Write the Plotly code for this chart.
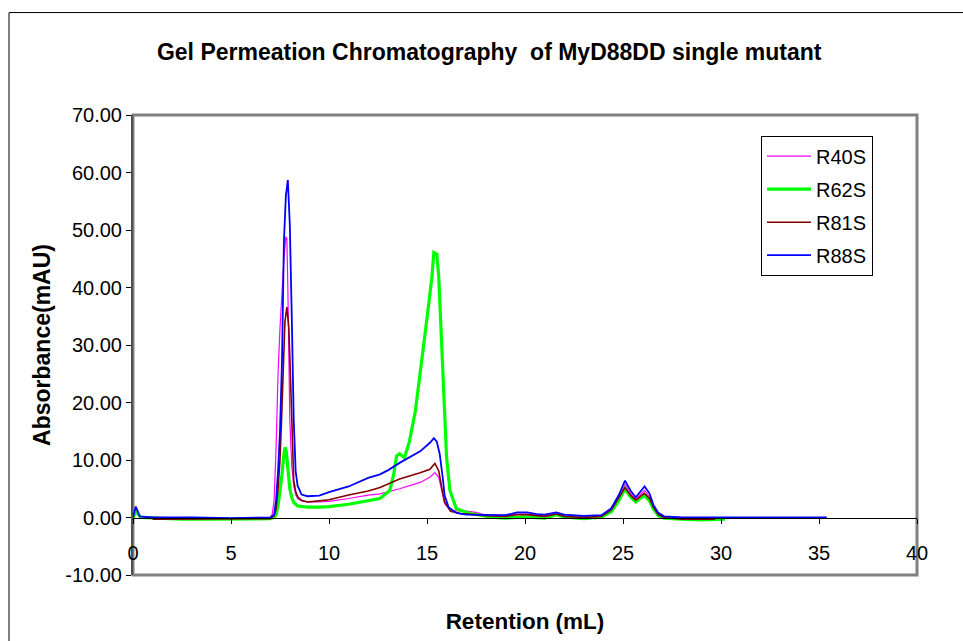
import plotly.graph_objects as go

# Retention volume (mL) and absorbance (mAU) for each mutant
r40s_x = [0.0, 0.15, 0.4, 1.0, 3.0, 5.0, 7.0, 7.1, 7.2, 7.3, 7.4, 7.5, 7.6, 7.7, 7.8, 7.85,
          7.9, 8.0, 8.1, 8.2, 8.3, 8.4, 8.6, 8.9, 9.5, 10.0, 11.0, 12.0, 12.6, 13.6, 14.65,
          15.15, 15.4, 15.6, 15.75, 15.9, 16.2, 17.0, 17.5, 18.0, 19.0, 19.6, 20.1, 21.0,
          21.6, 22.0, 23.0, 23.9, 24.4, 24.8, 25.1, 25.4, 25.65, 25.9, 26.1, 26.35, 26.55,
          26.8, 27.1, 28.0, 29.0, 30.0]
r40s_y = [-0.4, 1.2, 0.1, 0.0, -0.2, -0.2, 0.0, 0.5, 3.0, 12.0, 25.0, 33.0, 40.0, 45.0, 48.8, 48.5,
          40.0, 17.0, 9.0, 5.5, 4.0, 3.3, 2.9, 2.7, 2.7, 2.8, 3.3, 3.9, 4.1, 5.0, 6.1,
          7.0, 7.8, 7.0, 4.7, 2.4, 1.2, 1.1, 0.9, 0.4, 0.3, 0.6, 0.6, 0.3,
          0.7, 0.3, 0.1, 0.3, 1.4, 3.6, 5.7, 4.2, 3.2, 4.1, 4.7, 3.7, 2.0,
          0.7, 0.1, 0.0, 0.0, 0.0]

r62s_x = [0.0, 0.15, 0.4, 1.0, 2.5, 4.0, 5.5, 7.0, 7.2, 7.3, 7.4, 7.5, 7.6, 7.7, 7.76, 7.82,
          7.9, 8.0, 8.1, 8.2, 8.4, 8.6, 8.9, 9.5, 10.0, 11.0, 12.0, 12.6, 13.1, 13.3, 13.45,
          13.6, 13.85, 14.1, 14.4, 14.65, 14.8, 15.05, 15.25, 15.35, 15.5, 15.6, 15.67,
          15.75, 15.87, 16.0, 16.17, 16.5, 17.2, 18.4, 19.0, 20.0, 21.0, 21.6, 22.0, 23.0,
          23.9, 24.4, 24.8, 25.1, 25.4, 25.65, 25.9, 26.1, 26.35, 26.55, 26.8, 27.1, 28.0,
          29.0, 30.2]
r62s_y = [0.0, 1.0, 0.0, -0.1, -0.3, -0.3, -0.3, -0.2, 0.0, 0.5, 2.0, 4.5, 7.5, 11.0, 12.2, 11.5,
          9.0, 5.0, 3.5, 2.6, 2.0, 1.9, 1.8, 1.8, 1.9, 2.3, 2.9, 3.3, 4.7, 7.5, 10.7,
          11.1, 10.4, 13.2, 18.4, 24.7, 29.2, 36.1, 41.8, 46.1, 45.8, 41.8, 36.1,
          27.5, 20.1, 10.4, 4.7, 1.5, 0.7, 0.0, -0.1, 0.1, -0.1, 0.5, 0.1, -0.2,
          0.1, 1.0, 3.0, 5.0, 3.5, 2.7, 3.4, 3.8, 2.9, 1.5, 0.3, -0.1, -0.3,
          -0.4, -0.3]

r81s_x = [1.0, 3.0, 5.0, 7.0, 7.2, 7.3, 7.4, 7.5, 7.6, 7.7, 7.75, 7.85, 7.95, 8.0, 8.1, 8.2,
          8.3, 8.4, 8.6, 8.9, 9.5, 10.0, 11.0, 12.0, 12.6, 13.6, 14.65, 15.15, 15.4, 15.6,
          15.75, 15.9, 16.2, 16.7, 17.5, 18.0, 19.0, 19.6, 20.1, 21.0, 21.6, 22.0, 23.0,
          23.9, 24.4, 24.8, 25.1, 25.4, 25.65, 25.9, 26.1, 26.35, 26.55, 26.8, 27.1, 28.0,
          29.0, 29.7]
r81s_y = [-0.3, -0.3, -0.3, -0.2, 0.3, 1.5, 5.0, 10.0, 19.0, 28.0, 34.0, 36.6, 33.0, 28.0, 16.7, 6.5,
          4.5, 3.6, 3.0, 2.7, 2.9, 3.1, 3.9, 4.6, 5.2, 6.7, 7.8, 8.4, 9.4, 8.1,
          5.2, 2.7, 1.1, 0.7, 0.5, 0.3, 0.2, 0.5, 0.5, 0.2, 0.6, 0.2, 0.0,
          0.2, 1.3, 3.4, 5.2, 3.8, 3.0, 3.7, 4.2, 3.3, 1.8, 0.5, 0.0, -0.3,
          -0.3, -0.3]

r88s_x = [0.0, 0.14, 0.35, 1.0, 3.0, 5.0, 7.0, 7.2, 7.3, 7.4, 7.5, 7.6, 7.7, 7.8, 7.9, 8.0,
          8.1, 8.2, 8.3, 8.4, 8.6, 8.9, 9.5, 10.0, 11.0, 12.0, 12.6, 13.0, 13.6, 14.1, 14.65,
          15.15, 15.35, 15.5, 15.65, 15.8, 15.9, 16.1, 16.5, 17.0, 18.0, 19.0, 19.6, 20.1,
          20.6, 21.0, 21.6, 22.0, 23.0, 23.9, 24.4, 24.8, 25.1, 25.4, 25.65, 25.9, 26.1,
          26.35, 26.55, 26.8, 27.1, 28.0, 30.0, 32.0, 34.0, 35.4]
r88s_y = [0.0, 1.9, 0.2, 0.0, 0.0, -0.1, 0.0, 0.5, 3.0, 8.0, 15.0, 27.0, 48.0, 56.0, 58.7, 51.0,
          35.0, 17.0, 8.0, 5.5, 4.0, 3.7, 3.8, 4.4, 5.4, 6.9, 7.5, 8.2, 9.5, 10.5, 11.5,
          13.0, 13.8, 13.2, 11.0, 7.0, 3.8, 1.8, 0.8, 0.5, 0.4, 0.4, 0.9, 0.9,
          0.6, 0.5, 0.9, 0.5, 0.3, 0.4, 1.6, 4.0, 6.4, 4.6, 3.5, 4.6, 5.4,
          4.2, 2.2, 0.8, 0.2, 0.0, 0.0, 0.0, 0.0, 0.0]

series = [
    ("R40S", r40s_x, r40s_y, "#FF00FF", 1.2),
    ("R62S", r62s_x, r62s_y, "#00FF00", 3.2),
    ("R81S", r81s_x, r81s_y, "#800000", 1.6),
    ("R88S", r88s_x, r88s_y, "#0000FF", 1.8),
]

x_ticks = [0, 5, 10, 15, 20, 25, 30, 35, 40]
y_ticks = [-10, 0, 10, 20, 30, 40, 50, 60, 70]
y_tick_text = ["%.2f" % v for v in y_ticks]

FONT = "Liberation Sans, Arial, sans-serif"

fig = go.Figure()
for name, xs, ys, color, width in series:
    fig.add_trace(go.Scatter(x=xs, y=ys, mode="lines", name=name, legendgroup=name,
                             line=dict(color=color, width=width)))

fig.update_layout(
    width=963, height=641,
    margin=dict(l=133, r=46, t=115, b=59),
    paper_bgcolor="white", plot_bgcolor="white",
    font=dict(family=FONT, size=20, color="black"),
    showlegend=True,
    title=dict(text="<b>Gel Permeation Chromatography  of MyD88DD single mutant</b>",
               x=0.508, xanchor="center", y=1 - 52 / 641, yanchor="middle",
               font=dict(size=23, family=FONT)),
    legend=dict(x=0.801, y=0.955, xanchor="left", yanchor="top",
                bordercolor="black", borderwidth=1, bgcolor="white",
                font=dict(size=20, family=FONT), tracegroupgap=4,
                itemwidth=44),
    xaxis=dict(range=[0, 40], tickvals=x_ticks, ticktext=[str(v) for v in x_ticks],
               anchor="free", position=0.125,
               showline=True, linecolor="black", linewidth=1,
               ticks="outside", ticklen=5, tickcolor="black",
               ticklabelstandoff=12,
               showgrid=False, zeroline=False,
               tickfont=dict(size=20, family=FONT),
               title=dict(text="<b>Retention (mL)</b>", standoff=50,
                          font=dict(size=22.5, family=FONT))),
    yaxis=dict(range=[-10, 70], tickvals=y_ticks, ticktext=y_tick_text,
               showline=True, linecolor="#505050", linewidth=2,
               ticks="outside", ticklen=5, tickcolor="black",
               showgrid=False, zeroline=False,
               tickfont=dict(size=20, family=FONT),
               title=dict(text="<b>Absorbance(mAU)</b>", standoff=8,
                          font=dict(size=23, family=FONT))),
    shapes=[
        # plot-area frame
        dict(type="rect", xref="paper", yref="paper", x0=0, x1=1, y0=0, y1=1,
             line=dict(color="#808080", width=3), layer="below"),
        # outer chart border
        dict(type="rect", xref="paper", yref="paper",
             x0=(9 - 133) / 784, x1=1.2, y0=-0.3, y1=(582 - 11) / 467,
             line=dict(color="black", width=1), layer="below"),
    ],
)

fig.write_html("out.html")
